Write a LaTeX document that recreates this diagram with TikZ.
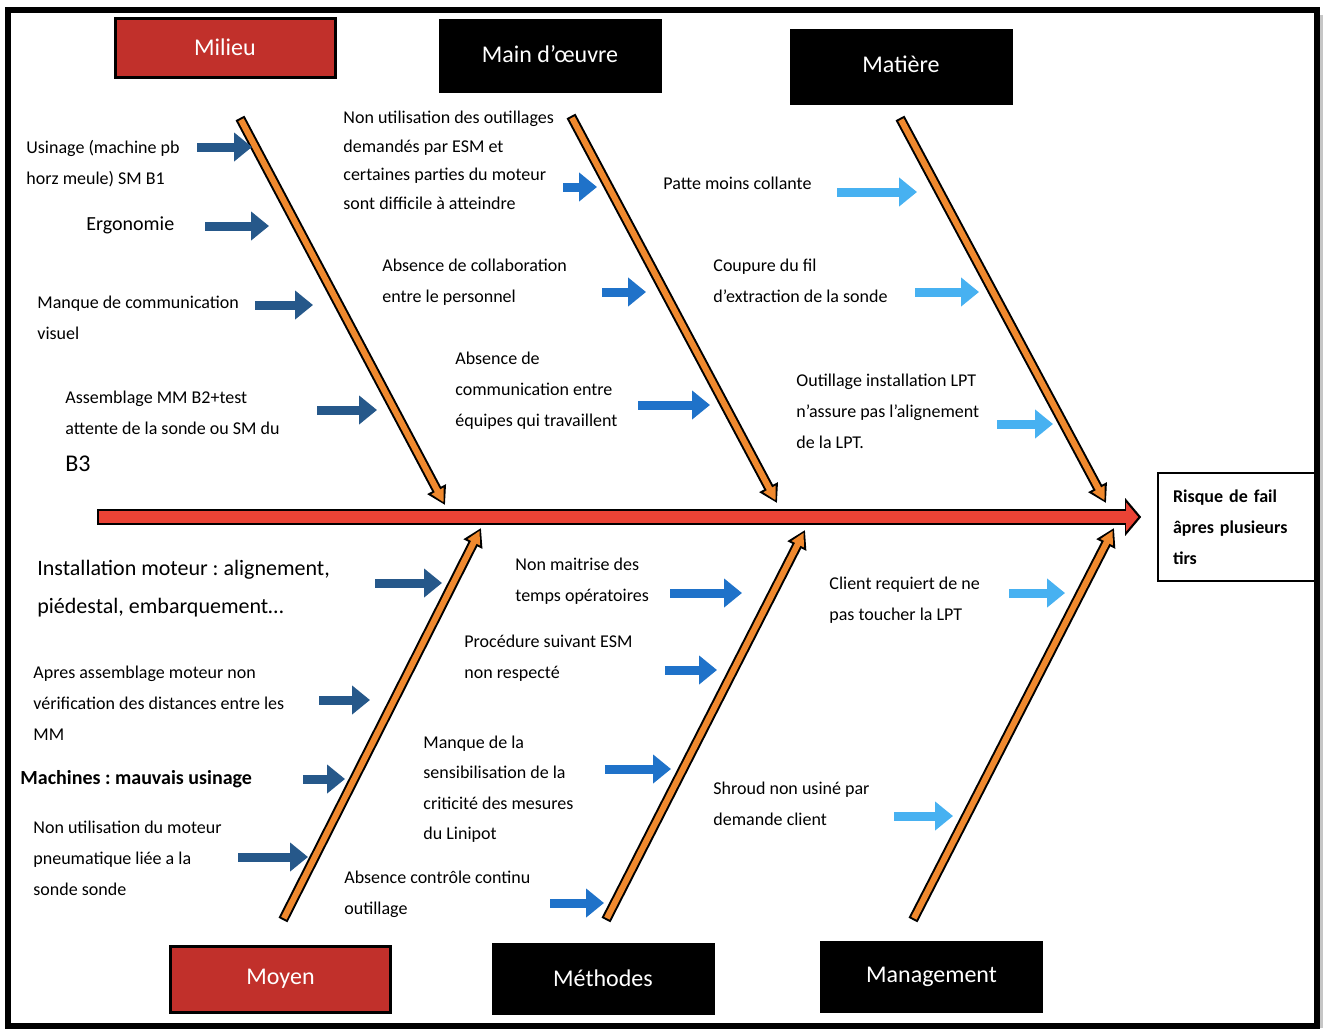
\documentclass[tikz,border=0pt]{standalone}
\usepackage{fontspec}
\setmainfont{Carlito}
\usetikzlibrary{arrows.meta,positioning}
\frenchspacing

\definecolor{catred}{HTML}{C1302B}
\definecolor{spinered}{HTML}{EA4335}
\definecolor{boneorange}{HTML}{F0892E}
\definecolor{hintdark}{HTML}{26588A}
\definecolor{hintmid}{HTML}{1F72C9}
\definecolor{hintlight}{HTML}{47B1F1}

\begin{document}
\begin{tikzpicture}[x=0.5pt,y=-0.5pt,
    cat/.style={draw=black,line width=1.5pt,minimum width=110pt,text=white,font=\fontsize{12}{14}\selectfont},
    cause/.style={anchor=north west,inner sep=0pt,align=left,font=\fontsize{9}{15.5}\selectfont,execute at begin node=\strut},
    effect/.style={draw,line width=0.8pt,minimum height=54pt,text width=64pt,inner xsep=7.5pt,align=left,font=\bfseries\fontsize{9}{15.5}\selectfont},
    boneout/.style={draw=black,line width=5pt,-{Triangle[length=9pt,width=10pt]}},
    bonein/.style={draw=boneorange,line width=3pt,shorten <=1pt,shorten >=1.5pt,-{Triangle[length=6.5pt,width=6.5pt]}},
    spineout/.style={draw=black,line width=8pt,shorten >=8pt,-{Triangle[length=8pt,width=18.5pt]}},
    spinein/.style={draw=spinered,line width=6pt,shorten <=1pt,shorten >=9.5pt,-{Triangle[length=6pt,width=14pt]}},
    hint/.style={line width=4.5pt,-{Triangle[length=9pt,width=14pt]}}]

\useasboundingbox (0,0) rectangle (1327,1028);

% categories
\node[cat,fill=catred,minimum height=29.5pt] (milieu) at (225,47.5) {\raisebox{-1.5pt}{Milieu}};
\node[cat,fill=black,minimum height=35.5pt] (mainoeuvre) at (550,55.5) {\raisebox{1.5pt}{Main d’œuvre}};
\node[cat,fill=black,minimum height=36.5pt] (matiere) at (901,66.5) {\raisebox{2pt}{Matière}};
\node[cat,fill=catred,minimum height=33pt] (moyen) at (280.5,979) {Moyen};
\node[cat,fill=black,minimum height=34.5pt] (methodes) at (603,978.5) {Méthodes};
\node[cat,fill=black,minimum height=34.5pt] (management) at (931.5,976.5) {Management};

% effect and spine
\node[effect] (risk) at (1237,527) {Risque de fail\\âpres plusieurs\\tirs};
\coordinate (tail) at (97,517);
\draw[spineout] (tail) -- (tail -| risk.west);
\draw[spinein] (tail) -- (tail -| risk.west);

% bones
\foreach \xa/\ya/\xb/\yb [count=\i] in {240/118/445/505, 571/116/777/503, 900/118/1106/503,
    283/920/481/528, 606/920/805/530, 913/920/1114/528}{
  \coordinate (bt\i) at (\xa,\ya);
  \coordinate (bh\i) at (\xb,\yb);
  \draw[boneout] (bt\i) -- (bh\i);
  \draw[bonein] (bt\i) -- (bh\i);
}

% cause arrows
\foreach \xa/\xb/\y/\c [count=\i] in {197/252/147/hintdark, 205/269/226/hintdark, 255/313/305/hintdark, 317/377/410/hintdark,
    563/597/187/hintmid, 602/646/292/hintmid, 638/710/405/hintmid,
    837/917/192/hintlight, 915/979/292/hintlight, 997/1053/424/hintlight,
    375/442/583/hintdark, 319/370/700/hintdark, 303/345/779/hintdark, 238/308/857/hintdark,
    670/742/593/hintmid, 665/717/670/hintmid, 605/671/769/hintmid, 550/604/903/hintmid,
    1009/1065/593/hintlight, 894/953/816/hintlight}{
  \coordinate (hs\i) at (\xa,\y);
  \coordinate (he\i) at (\xb,\y);
  \draw[hint,draw=\c] (hs\i) -- (he\i);
}

% Milieu
\node[cause] (mi1) at (26,139.5) {Usinage (machine pb\\horz meule) SM B1};
\node[cause,font=\fontsize{10}{15.5}\selectfont] (mi2) at (86,208) {Ergonomie};
\node[cause] (mi3) at (37,295.5) {Manque de communication\\visuel};
\node[cause] (mi4) at (65,390.5) {Assemblage MM B2+test\\attente de la sonde ou SM du\\[3pt]{\fontsize{12}{15.5}\selectfont B3}};

% Main d'oeuvre
\node[cause,font=\fontsize{9}{14.2}\selectfont] (mo1) at (343,111) {Non utilisation des outillages\\demandés par ESM et\\certaines parties du moteur\\sont difficile à atteindre};
\node[cause] (mo2) at (382,258.5) {Absence de collaboration\\entre le personnel};
\node[cause] (mo3) at (455,351.5) {Absence de\\communication entre\\équipes qui travaillent};

% Matiere
\node[cause] (ma1) at (663,167.5) {Patte moins collante};
\node[cause] (ma2) at (713,258.5) {Coupure du fil\\d’extraction de la sonde};
\node[cause] (ma3) at (796,373.5) {Outillage installation LPT\\n’assure pas l’alignement\\de la LPT.};

% Moyen
\node[cause,font=\fontsize{11}{19}\selectfont] (my1) at (37,560) {Installation moteur : alignement,\\piédestal, embarquement…};
\node[cause] (my2) at (33,665.5) {Apres assemblage moteur non\\vérification des distances entre les\\MM};
\node[cause,font=\bfseries\fontsize{10}{15.5}\selectfont] (my3) at (20,762) {Machines : mauvais usinage};
\node[cause] (my4) at (33,820.5) {Non utilisation du moteur\\pneumatique liée a la\\sonde sonde};

% Methodes
\node[cause] (me1) at (515,557.5) {Non maitrise des\\temps opératoires};
\node[cause] (me2) at (464,634.5) {Procédure suivant ESM\\non respecté};
\node[cause,font=\fontsize{9}{15.2}\selectfont] (me3) at (423,735.5) {Manque de la\\sensibilisation de la\\criticité des mesures\\du Linipot};
\node[cause] (me4) at (344,870.5) {Absence contrôle continu\\outillage};

% Management
\node[cause] (mg1) at (829,576.5) {Client requiert de ne\\pas toucher la LPT};
\node[cause] (mg2) at (713,781.5) {Shroud non usiné par\\demande client};

% frame
\draw[gray!45,line width=2pt] (1321,15) -- (1321,1028);
\draw[line width=3pt] (7.5,9.5) rectangle (1316.5,1026);
\end{tikzpicture}
\end{document}
